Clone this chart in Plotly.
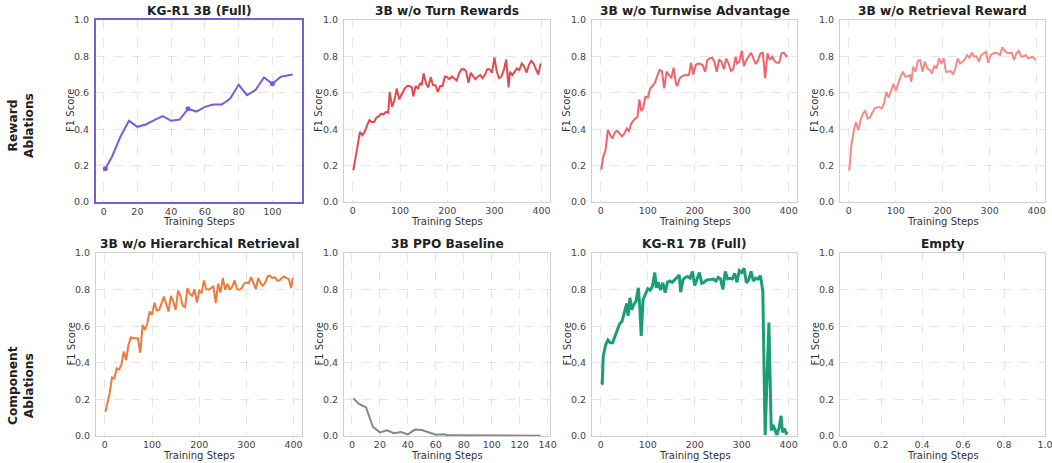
import plotly.graph_objects as go
from plotly.subplots import make_subplots

# ---------------- data ----------------
titles = ["KG-R1 3B (Full)", "3B w/o Turn Rewards", "3B w/o Turnwise Advantage", "3B w/o Retrieval Reward",
          "3B w/o Hierarchical Retrieval", "3B PPO Baseline", "KG-R1 7B (Full)", "Empty"]
row_labels = ["Reward<br>Ablations", "Component<br>Ablations"]
x_title = "Training Steps"
y_title = "F1 Score"

full3b_steps = [1, 5, 10, 15, 20, 25, 30, 35, 40, 45, 50, 55, 60, 65, 70, 75, 80, 85, 90, 95, 100, 105, 112]
full3b_f1 = [0.183, 0.25, 0.36, 0.446, 0.413, 0.426, 0.45, 0.472, 0.446, 0.453, 0.512, 0.497, 0.523, 0.536,
             0.536, 0.569, 0.644, 0.587, 0.615, 0.684, 0.65, 0.688, 0.70]
full3b_marker_steps = [1, 50, 100]
full3b_marker_f1 = [0.183, 0.512, 0.65]

noturn_steps = [1, 15, 20, 25, 30, 35, 40, 45, 50, 55, 60, 65, 70, 75, 78, 83, 88, 93, 98, 103, 110, 115, 120,
                125, 128, 133, 138, 143, 146, 150, 155, 160, 165, 170, 175, 180, 185, 190, 195, 200, 205, 210,
                215, 220, 225, 230, 235, 240, 245, 250, 255, 260, 265, 270, 275, 280, 285, 290, 295, 300, 305,
                310, 315, 320, 325, 330, 333, 338, 343, 348, 353, 358, 363, 368, 373, 378, 383, 388, 393, 398]
noturn_f1 = [0.174, 0.385, 0.367, 0.385, 0.42, 0.45, 0.44, 0.44, 0.464, 0.47, 0.486, 0.482, 0.495, 0.49, 0.605,
             0.523, 0.56, 0.624, 0.565, 0.59, 0.624, 0.637, 0.637, 0.63, 0.58, 0.637, 0.624, 0.655, 0.642, 0.706,
             0.65, 0.63, 0.686, 0.642, 0.642, 0.605, 0.637, 0.637, 0.69, 0.686, 0.675, 0.69, 0.68, 0.667, 0.706,
             0.728, 0.73, 0.72, 0.655, 0.71, 0.69, 0.675, 0.69, 0.697, 0.68, 0.70, 0.73, 0.73, 0.71, 0.795,
             0.716, 0.68, 0.69, 0.725, 0.783, 0.63, 0.716, 0.697, 0.716, 0.734, 0.725, 0.761, 0.746, 0.71,
             0.752, 0.776, 0.761, 0.734, 0.70, 0.761]

noadv_steps = [1, 5, 10, 15, 20, 25, 30, 35, 40, 45, 50, 55, 60, 65, 70, 75, 78, 82, 86, 90, 95, 100, 105, 110,
               115, 120, 125, 130, 135, 140, 145, 150, 155, 160, 163, 168, 173, 178, 183, 188, 192, 197, 202,
               207, 212, 217, 222, 227, 232, 237, 242, 247, 252, 257, 262, 267, 272, 277, 282, 287, 290, 295,
               300, 305, 310, 315, 320, 325, 330, 335, 340, 345, 350, 355, 360, 365, 370, 375, 380, 385, 390,
               395, 398]
noadv_f1 = [0.178, 0.248, 0.284, 0.398, 0.367, 0.349, 0.385, 0.39, 0.376, 0.36, 0.376, 0.404, 0.39, 0.431, 0.45,
            0.464, 0.468, 0.563, 0.50, 0.514, 0.578, 0.574, 0.624, 0.637, 0.655, 0.69, 0.725, 0.72, 0.624, 0.716,
            0.70, 0.68, 0.738, 0.65, 0.637, 0.68, 0.69, 0.697, 0.697, 0.70, 0.765, 0.70, 0.752, 0.761, 0.758,
            0.752, 0.716, 0.78, 0.789, 0.794, 0.771, 0.716, 0.783, 0.771, 0.729, 0.789, 0.761, 0.72, 0.729,
            0.798, 0.761, 0.771, 0.831, 0.746, 0.78, 0.80, 0.82, 0.789, 0.758, 0.78, 0.817, 0.82, 0.68, 0.817,
            0.78, 0.798, 0.774, 0.765, 0.765, 0.817, 0.82, 0.80, 0.805]

noret_steps = [1, 5, 10, 15, 20, 25, 30, 35, 40, 45, 50, 55, 60, 65, 70, 75, 80, 85, 90, 95, 100, 105, 110, 115,
               120, 125, 130, 133, 137, 142, 147, 152, 157, 162, 167, 172, 177, 182, 187, 192, 197, 202, 207,
               212, 217, 222, 227, 232, 237, 242, 247, 252, 257, 262, 267, 272, 277, 282, 287, 292, 297, 302,
               307, 312, 317, 322, 327, 332, 337, 342, 347, 352, 357, 362, 367, 372, 377, 382, 387, 392, 398]
noret_f1 = [0.174, 0.303, 0.385, 0.44, 0.394, 0.45, 0.486, 0.50, 0.459, 0.464, 0.49, 0.514, 0.52, 0.52, 0.514,
            0.541, 0.605, 0.574, 0.611, 0.65, 0.611, 0.655, 0.686, 0.716, 0.69, 0.69, 0.697, 0.66, 0.743, 0.716,
            0.776, 0.78, 0.716, 0.771, 0.734, 0.725, 0.706, 0.747, 0.734, 0.789, 0.761, 0.789, 0.716, 0.716,
            0.72, 0.70, 0.734, 0.789, 0.761, 0.771, 0.783, 0.807, 0.794, 0.82, 0.798, 0.80, 0.771, 0.807, 0.817,
            0.826, 0.765, 0.807, 0.817, 0.82, 0.817, 0.807, 0.85, 0.831, 0.82, 0.817, 0.82, 0.78, 0.817, 0.831,
            0.80, 0.80, 0.807, 0.789, 0.794, 0.798, 0.78]

nohier_steps = [1, 5, 10, 15, 20, 25, 30, 35, 40, 45, 50, 55, 60, 65, 70, 75, 80, 85, 90, 95, 100, 105, 110, 115,
                120, 125, 130, 135, 140, 145, 150, 155, 160, 165, 170, 175, 180, 185, 190, 195, 200, 205, 210,
                215, 220, 225, 230, 235, 240, 245, 250, 255, 260, 265, 270, 275, 280, 285, 290, 295, 300, 305,
                310, 315, 320, 325, 330, 335, 340, 345, 350, 355, 360, 365, 370, 375, 380, 385, 390, 395, 398]
nohier_f1 = [0.132, 0.177, 0.232, 0.32, 0.314, 0.369, 0.364, 0.388, 0.461, 0.415, 0.497, 0.539, 0.534, 0.534,
             0.534, 0.455, 0.607, 0.58, 0.616, 0.68, 0.662, 0.729, 0.686, 0.689, 0.729, 0.762, 0.722, 0.68, 0.766,
             0.735, 0.689, 0.795, 0.766, 0.711, 0.704, 0.808, 0.777, 0.766, 0.802, 0.729, 0.795, 0.784, 0.85,
             0.802, 0.799, 0.808, 0.817, 0.726, 0.832, 0.784, 0.863, 0.799, 0.832, 0.799, 0.817, 0.85, 0.802,
             0.799, 0.808, 0.832, 0.839, 0.835, 0.868, 0.835, 0.802, 0.863, 0.835, 0.821, 0.839, 0.872, 0.876,
             0.863, 0.868, 0.85, 0.85, 0.863, 0.872, 0.863, 0.857, 0.808, 0.863]

ppo_steps = [1, 5, 10, 15, 20, 25, 30, 35, 40, 45, 50, 55, 60, 65, 70, 75, 80, 85, 90, 95, 100, 110, 120, 135]
ppo_f1 = [0.206, 0.175, 0.157, 0.05, 0.02, 0.031, 0.015, 0.022, 0.009, 0.035, 0.033, 0.022, 0.007, 0.009, 0.004,
          0.004, 0.004, 0.002, 0.002, 0.001, 0.001, 0.001, 0.001, 0.001]

full7b_steps = [1, 3, 5, 10, 15, 20, 25, 30, 35, 40, 45, 50, 55, 58, 62, 66, 70, 75, 80, 83, 86, 90, 95, 100, 105,
                110, 115, 118, 122, 127, 132, 137, 142, 147, 152, 157, 162, 167, 170, 175, 180, 185, 190, 195,
                200, 205, 210, 215, 220, 225, 230, 235, 240, 245, 250, 255, 260, 265, 270, 275, 280, 285, 290,
                295, 300, 305, 310, 315, 320, 325, 330, 335, 340, 345, 350, 358, 363, 367, 370, 375, 380, 384,
                387, 391, 395, 398]
full7b_f1 = [0.282, 0.286, 0.433, 0.497, 0.525, 0.51, 0.51, 0.543, 0.58, 0.613, 0.626, 0.681, 0.724, 0.657,
             0.755, 0.69, 0.718, 0.737, 0.81, 0.70, 0.547, 0.746, 0.773, 0.805, 0.797, 0.82, 0.893, 0.81, 0.84,
             0.797, 0.837, 0.783, 0.84, 0.847, 0.84, 0.853, 0.862, 0.88, 0.786, 0.853, 0.867, 0.871, 0.862,
             0.899, 0.823, 0.853, 0.893, 0.834, 0.84, 0.852, 0.853, 0.853, 0.858, 0.847, 0.867, 0.858, 0.801,
             0.899, 0.858, 0.862, 0.858, 0.889, 0.84, 0.904, 0.893, 0.917, 0.837, 0.853, 0.899, 0.847, 0.862,
             0.858, 0.876, 0.792, 0.005, 0.62, 0.03, 0.06, 0.04, 0.005, 0.05, 0.11, 0.02, 0.04, 0.015, 0.02]

series = [
    (full3b_steps, full3b_f1, "#7B5CD6", 2.0),
    (noturn_steps, noturn_f1, "#E14B50", 2.0),
    (noadv_steps, noadv_f1, "#F0656A", 2.0),
    (noret_steps, noret_f1, "#F48A8A", 2.0),
    (nohier_steps, nohier_f1, "#EF7A3D", 2.0),
    (ppo_steps, ppo_f1, "#888888", 2.0),
    (full7b_steps, full7b_f1, "#1B9E77", 3.0),
]

x_ranges = [[-4.55, 117.55], [-18.85, 417.85], [-18.85, 417.85], [-18.85, 417.85],
            [-18.85, 417.85], [-5.7, 141.7], [-18.85, 417.85], [0, 1]]
x_ticks = [[0, 20, 40, 60, 80, 100], [0, 100, 200, 300, 400], [0, 100, 200, 300, 400], [0, 100, 200, 300, 400],
           [0, 100, 200, 300, 400], [0, 20, 40, 60, 80, 100, 120, 140], [0, 100, 200, 300, 400],
           [0, 0.2, 0.4, 0.6, 0.8, 1.0]]
y_ticks = [0, 0.2, 0.4, 0.6, 0.8, 1.0]

# ---------------- layout geometry (pixels) ----------------
W, H = 1052, 463
col_px = [(96, 302), (344, 550), (592, 797), (840, 1045)]
row_px = [(20, 202), (253, 436)]

fig = make_subplots(rows=2, cols=4)

FONT = "DejaVu Sans"
for i in range(8):
    r, c = divmod(i, 4)
    idx = i + 1
    xa = f"xaxis{idx}" if idx > 1 else "xaxis"
    ya = f"yaxis{idx}" if idx > 1 else "yaxis"
    x0, x1 = col_px[c]
    y0, y1 = row_px[r]
    frame_col = "#7B5CD6" if i == 0 else "#D0D0D0"
    frame_w = 2 if i == 0 else 1
    fig.layout[xa].update(domain=[x0 / W, x1 / W], range=x_ranges[i], tickvals=x_ticks[i],
                          tickformat=".1f" if i == 7 else "d", automargin=False, ticklabeloverflow="allow",
                          showgrid=True, gridcolor="#E6E6E6", griddash="dash", gridwidth=0.8,
                          zeroline=False, showline=True, linecolor=frame_col, linewidth=frame_w, mirror=True,
                          ticks="", ticklabelstandoff=0,
                          tickfont=dict(family=FONT, size=9.5, color="#444444"))
    fig.layout[ya].update(domain=[1 - y1 / H, 1 - y0 / H], range=[0, 1], tickvals=y_ticks, tickformat=".1f",
                          automargin=False, ticklabeloverflow="allow",
                          showgrid=True, gridcolor="#E6E6E6", griddash="dash", gridwidth=0.8,
                          zeroline=False, showline=True, linecolor=frame_col, linewidth=frame_w, mirror=True,
                          ticks="", ticklabelstandoff=3,
                          tickfont=dict(family=FONT, size=9.5, color="#444444"))
    # subplot title
    fig.add_annotation(text=f"<b>{titles[i]}</b>", xref="paper", yref="paper",
                       x=(x0 + x1) / 2 / W, y=1 - y0 / H, yanchor="bottom", xanchor="center", yshift=0,
                       showarrow=False, font=dict(family=FONT, size=12.2, color="#222222"))
    # x-axis title
    fig.add_annotation(text=x_title, xref="paper", yref="paper",
                       x=(x0 + x1) / 2 / W, y=1 - (y1 + 19) / H, yanchor="middle", xanchor="center",
                       showarrow=False, font=dict(family=FONT, size=10, color="#333333"))
    # y-axis title
    fig.add_annotation(text=y_title, xref="paper", yref="paper", textangle=-90,
                       x=(x0 - 25) / W, y=1 - (y0 + y1) / 2 / H, yanchor="middle", xanchor="center",
                       showarrow=False, font=dict(family=FONT, size=10, color="#333333"))

for i, (xs, ys, col, lw) in enumerate(series):
    r, c = divmod(i, 4)
    fig.add_trace(go.Scatter(x=xs, y=ys, mode="lines", line=dict(color=col, width=lw), showlegend=False,
                             cliponaxis=True), row=r + 1, col=c + 1)

fig.add_trace(go.Scatter(x=full3b_marker_steps, y=full3b_marker_f1, mode="markers",
                         marker=dict(color="#7B5CD6", size=5), showlegend=False), row=1, col=1)

# empty panel: invisible trace to keep axes
fig.add_trace(go.Scatter(x=[None], y=[None], mode="lines", showlegend=False), row=2, col=4)

for lbl, yc in zip(row_labels, [126, 386]):
    fig.add_annotation(text=f"<b>{lbl}</b>", xref="paper", yref="paper", x=21 / W, y=1 - yc / H,
                       xanchor="center", yanchor="middle", textangle=-90, showarrow=False,
                       font=dict(family=FONT, size=12.2, color="#222222"))

fig.update_layout(width=W, height=H, margin=dict(l=0, r=0, t=0, b=0),
                  plot_bgcolor="white", paper_bgcolor="white")

fig.write_html("out.html", config={"displayModeBar": False},
               post_script="document.body.style.margin='0px';document.body.style.padding='0px';")
